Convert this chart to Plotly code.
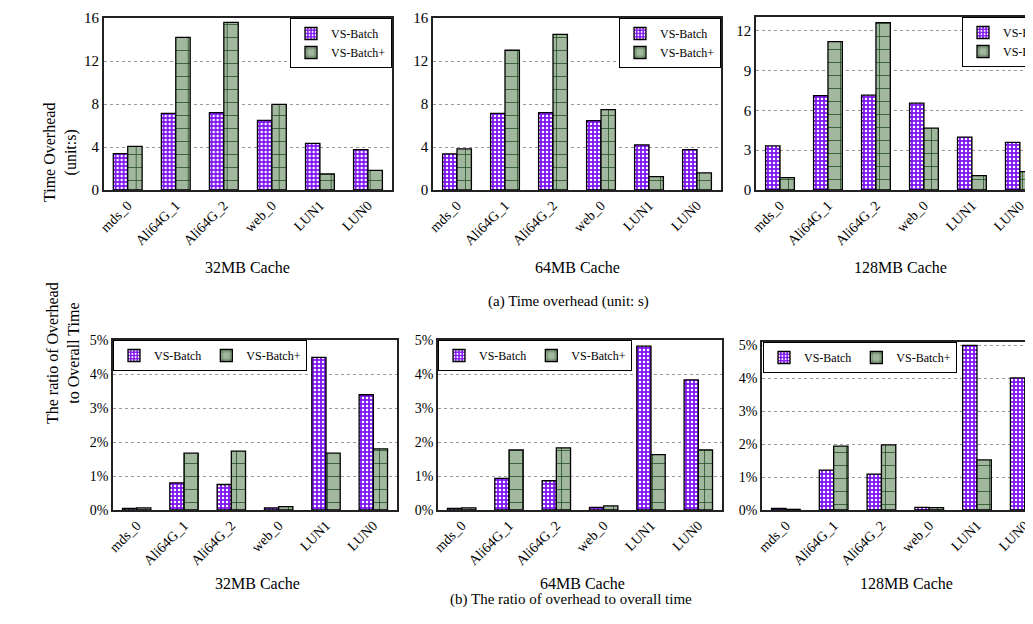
import plotly.graph_objects as go

categories = ["mds_0", "Ali64G_1", "Ali64G_2", "web_0", "LUN1", "LUN0"]
series_names = ["VS-Batch", "VS-Batch+"]
cache_labels = ["32MB Cache", "64MB Cache", "128MB Cache"]

time_32_batch = [3.38, 7.13, 7.20, 6.48, 4.34, 3.75]
time_32_plus = [4.06, 14.2, 15.6, 7.97, 1.49, 1.83]
time_64_batch = [3.36, 7.13, 7.20, 6.45, 4.20, 3.75]
time_64_plus = [3.82, 13.0, 14.47, 7.48, 1.25, 1.60]
time_128_batch = [3.33, 7.12, 7.15, 6.55, 3.99, 3.59]
time_128_plus = [0.94, 11.19, 12.63, 4.67, 1.09, 1.39]

ratio_32_batch = [0.05, 0.80, 0.75, 0.06, 4.49, 3.39]
ratio_32_plus = [0.06, 1.67, 1.73, 0.10, 1.67, 1.80]
ratio_64_batch = [0.05, 0.93, 0.86, 0.08, 4.82, 3.83]
ratio_64_plus = [0.06, 1.77, 1.83, 0.12, 1.63, 1.77]
ratio_128_batch = [0.05, 1.21, 1.09, 0.08, 5.00, 4.01]
ratio_128_plus = [0.02, 1.94, 1.98, 0.07, 1.52, 1.71]

time_ticks = [[0, 4, 8, 12, 16], [0, 4, 8, 12, 16], [0, 3, 6, 9, 12]]
ratio_ticks = [0, 1, 2, 3, 4, 5]

W, H = 1033, 624
FONT = "Liberation Serif, Times New Roman, DejaVu Serif, serif"

def px_x(p):
    return p / W

def px_y(p):
    return 1 - p / H

# legend spec: (x px, y px, xanchor)
panels = [
    (time_32_batch, time_32_plus, 95.7, 384, 10, 182, [0, 16], time_ticks[0], "", [-0.5, 5.5], (384, 10, "right"), False),
    (time_64_batch, time_64_plus, 425, 713, 10, 182, [0, 16], time_ticks[1], "", [-0.5, 5.5], (713, 10, "right"), False),
    (time_128_batch, time_128_plus, 748, 1033, 9, 182, [0, 13.05], time_ticks[2], "", [-0.5, 5.44], (954, 9, "left"), False),
    (ratio_32_batch, ratio_32_plus, 105, 389, 332, 502, [0, 5], ratio_ticks, "%", [-0.5, 5.5], (105, 332, "left"), True),
    (ratio_64_batch, ratio_64_plus, 430, 714, 332, 502, [0, 5], ratio_ticks, "%", [-0.5, 5.5], (430, 332, "left"), True),
    (ratio_128_batch, ratio_128_plus, 754, 1033, 334, 502, [0, 5.1], ratio_ticks, "%", [-0.5, 5.34], (755, 334, "left"), True),
]

fig = go.Figure()
layout = dict(
    width=W, height=H,
    margin=dict(l=0, r=0, t=0, b=0, autoexpand=False),
    paper_bgcolor="white", plot_bgcolor="white",
    barmode="group", bargap=0.4, bargroupgap=0.0,
    font=dict(family=FONT, size=13, color="black"),
    annotations=[],
)

batch_color = "#8015f0"
plus_color = "#a2b89e"

for i, (b, p, x0, x1, yt, yb, yr, ticks, suf, xr, lpos, horiz) in enumerate(panels):
    n = i + 1
    xa = "x" if n == 1 else f"x{n}"
    ya = "y" if n == 1 else f"y{n}"
    leg = "legend" if n == 1 else f"legend{n}"
    fig.add_trace(go.Bar(
        x=categories, y=b, name=series_names[0], xaxis=xa, yaxis=ya, legend=leg,
        marker=dict(color=batch_color, line=dict(color="black", width=1.3),
                    pattern=dict(shape=".", bgcolor=batch_color, fgcolor="white",
                                 size=4, solidity=0.3, fillmode="replace")),
    ))
    fig.add_trace(go.Bar(
        x=categories, y=p, name=series_names[1], xaxis=xa, yaxis=ya, legend=leg,
        marker=dict(color=plus_color, line=dict(color="black", width=1.3),
                    pattern=dict(shape="+", bgcolor=plus_color, fgcolor="#244f24",
                                 size=13, solidity=0.12, fillmode="replace")),
    ))
    xkey = "xaxis" if n == 1 else f"xaxis{n}"
    ykey = "yaxis" if n == 1 else f"yaxis{n}"
    layout[xkey] = dict(
        domain=[px_x(x0), min(1.0, px_x(x1))], anchor=ya, range=xr,
        showline=True, linecolor="#222", linewidth=1.5, mirror=True,
        showgrid=False, tickangle=-45, ticks="",
        tickfont=dict(family=FONT, size=14, color="black"),
    )
    layout[ykey] = dict(
        domain=[px_y(yb), px_y(yt)], anchor=xa, range=yr,
        tickvals=ticks, ticktext=[f"{t}{suf}" for t in ticks],
        showline=True, linecolor="#222", linewidth=1.5, mirror=True,
        showgrid=True, gridcolor="#999", griddash="dot", gridwidth=1,
        ticks="", zeroline=False,
        tickfont=dict(family=FONT, size=15 if suf == "" else 14, color="black"),
    )
    layout[leg] = dict(
        x=px_x(lpos[0]), y=px_y(lpos[1]), xanchor=lpos[2], yanchor="top",
        orientation="h" if horiz else "v",
        bgcolor="white", bordercolor="black", borderwidth=1,
        font=dict(family=FONT, size=12, color="black"),
        tracegroupgap=0, itemwidth=30,
    )
    ty = 259 if n <= 3 else 575
    layout["annotations"].append(dict(
        x=px_x((x0 + (x0 + 288)) / 2), y=px_y(ty), xref="paper", yref="paper",
        text=cache_labels[i % 3], showarrow=False,
        font=dict(family=FONT, size=16, color="black"), xanchor="center", yanchor="middle",
    ))

layout["annotations"] += [
    dict(x=px_x(31), y=px_y(93), xref="paper", yref="paper", text="Time Overhead<br>(unit:s)",
         textangle=-90, showarrow=False, font=dict(family=FONT, size=16, color="black")),
    dict(x=px_x(34), y=px_y(418), xref="paper", yref="paper", text="The ratio of Overhead<br>to Overall Time",
         textangle=-90, showarrow=False, font=dict(family=FONT, size=16, color="black")),
    dict(x=px_x(560), y=px_y(293), xref="paper", yref="paper", text="(a) Time overhead (unit: s)",
         showarrow=False, font=dict(family=FONT, size=15, color="black")),
    dict(x=px_x(563), y=px_y(602), xref="paper", yref="paper", text="(b) The ratio of overhead to overall time",
         showarrow=False, font=dict(family=FONT, size=15, color="black")),
]

fig.update_layout(**layout)
fig.write_html("out.html")
